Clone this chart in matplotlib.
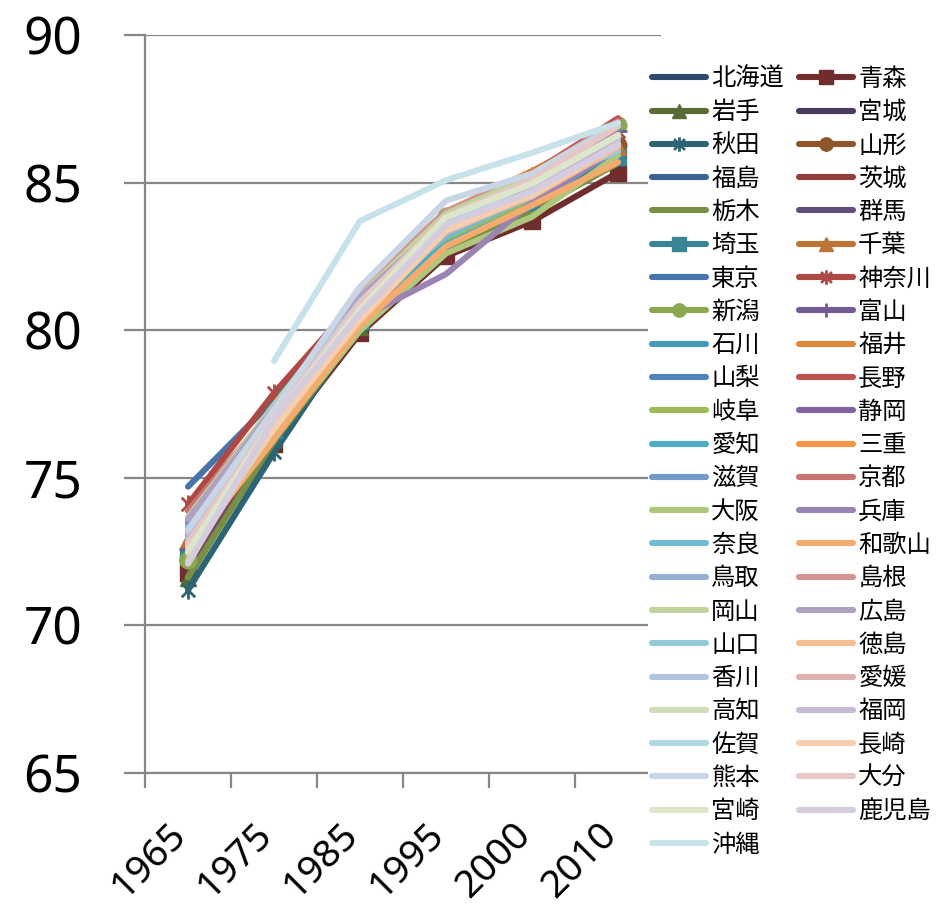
import numpy as np
import matplotlib
matplotlib.use("Agg")
import matplotlib.pyplot as plt
import matplotlib.transforms as mtransforms
from matplotlib.path import Path

plt.rcParams['font.family'] = ['Noto Sans CJK JP', 'DejaVu Sans']

years = ["1965", "1975", "1985", "1995", "2000", "2010"]

prefectures = ["北海道", "青森", "岩手", "宮城", "秋田", "山形", "福島", "茨城", "栃木", "群馬",
               "埼玉", "千葉", "東京", "神奈川", "新潟", "富山", "石川", "福井", "山梨", "長野",
               "岐阜", "静岡", "愛知", "三重", "滋賀", "京都", "大阪", "兵庫", "奈良", "和歌山",
               "鳥取", "島根", "岡山", "広島", "山口", "徳島", "香川", "愛媛", "高知", "福岡",
               "佐賀", "長崎", "熊本", "大分", "宮崎", "鹿児島", "沖縄"]

le_1965 = [72.85, 71.77, 71.61, 72.53, 71.20, 72.20, 71.95, 71.70, 71.63, 72.14,
           72.36, 72.90, 74.70, 74.10, 72.20, 72.58, 73.05, 72.43, 72.76, 73.19,
           72.74, 73.51, 73.40, 72.77, 72.87, 73.88, 73.38, 73.48, 73.30, 72.55,
           72.37, 72.72, 73.67, 73.60, 72.95, 72.20, 72.83, 72.70, 72.48, 73.12,
           72.51, 72.67, 73.23, 72.78, 72.50, 72.09, np.nan]
le_1975 = [76.90, 76.15, 76.30, 76.84, 75.86, 76.57, 76.31, 76.31, 76.24, 76.65,
           76.61, 76.93, 77.64, 77.87, 76.90, 76.91, 77.11, 76.93, 76.92, 77.27,
           76.95, 77.39, 77.05, 76.90, 77.05, 77.37, 76.38, 76.95, 77.28, 76.30,
           76.90, 77.25, 77.46, 77.36, 76.99, 76.74, 77.34, 76.80, 76.66, 76.84,
           76.69, 76.67, 77.31, 77.03, 76.99, 76.99, 78.96]
le_1985 = [80.42, 79.90, 80.12, 80.59, 80.22, 80.45, 80.29, 80.06, 80.01, 80.29,
           80.31, 80.52, 80.80, 81.14, 80.85, 80.92, 80.99, 80.87, 80.57, 81.13,
           80.57, 81.03, 80.61, 80.70, 80.81, 80.89, 79.99, 80.41, 80.71, 80.15,
           80.55, 81.41, 81.16, 81.13, 80.59, 80.31, 80.96, 80.48, 80.45, 80.55,
           80.56, 80.39, 81.47, 80.92, 80.71, 80.56, 83.70]
le_1995 = [83.32, 82.51, 83.22, 83.45, 83.26, 83.35, 82.97, 82.81, 82.71, 83.13,
           82.94, 83.14, 83.06, 83.40, 83.86, 83.82, 83.80, 84.01, 83.56, 83.89,
           83.10, 83.50, 82.90, 83.22, 83.65, 83.43, 82.60, 81.90, 83.19, 82.84,
           83.57, 84.03, 83.94, 83.72, 83.48, 83.38, 83.73, 83.32, 83.51, 83.35,
           83.60, 83.38, 84.39, 83.84, 83.83, 83.57, 85.08]
le_2000 = [84.84, 83.69, 84.49, 84.74, 84.32, 84.57, 84.21, 84.21, 84.04, 84.47,
           84.34, 84.52, 84.36, 84.74, 85.19, 85.24, 85.18, 85.39, 85.21, 85.31,
           84.33, 84.95, 84.22, 84.58, 84.96, 84.81, 83.84, 84.34, 84.54, 84.23,
           84.82, 85.30, 85.23, 85.10, 84.87, 84.53, 85.06, 84.56, 84.57, 84.75,
           85.03, 84.59, 85.30, 85.10, 84.96, 84.70, 86.01]
le_2010 = [86.30, 85.34, 85.86, 86.39, 85.93, 86.28, 86.05, 85.83, 85.66, 85.91,
           85.88, 86.20, 86.39, 86.74, 86.96, 86.75, 86.75, 86.94, 86.65, 87.18,
           86.26, 86.22, 86.22, 86.25, 86.69, 86.65, 85.93, 86.14, 86.60, 85.69,
           86.08, 87.07, 86.93, 86.94, 86.07, 86.21, 86.34, 86.54, 86.47, 86.48,
           86.58, 86.30, 86.98, 86.91, 86.61, 86.28, 87.02]

# ---- styling ----
accents = ["#4F81BD", "#C0504D", "#9BBB59", "#8064A2", "#4BACC6", "#F79646"]


def hex2rgb(h):
    return np.array([int(h[i:i + 2], 16) for i in (1, 3, 5)]) / 255.0


def shade_color(base, s):
    rgb = hex2rgb(base)
    if s < 3:
        return tuple(rgb * [0.58, 0.77, 0.9][s])
    if s == 3:
        return tuple(rgb)
    t = [0.2, 0.38, 0.54, 0.67][s - 4]
    c = rgb + (1 - rgb) * t
    g = c.mean()
    c = c + (g - c) * 0.15 * (s - 3) / 4
    return tuple(c)


star_path = Path([(0, -1), (0, 1), (-0.75, -0.75), (0.75, 0.75), (-0.75, 0.75), (0.75, -0.75)],
                 [Path.MOVETO, Path.LINETO, Path.MOVETO, Path.LINETO, Path.MOVETO, Path.LINETO])

markers = {1: 's', 2: '^', 4: star_path, 5: 'o', 10: 's', 11: '^', 13: star_path, 14: 'o', 15: '+'}

W, H = 941, 909
fig = plt.figure(figsize=(W / 100, H / 100), dpi=100)
ax = fig.add_axes([145 / W, 1 - 773 / H, (661 - 145) / W, (773 - 35) / H])

data = np.array([le_1965, le_1975, le_1985, le_1995, le_2000, le_2010])
x = np.arange(len(years))
handles = []
for i, name in enumerate(prefectures):
    col = shade_color(accents[i % 6], i // 6)
    m = markers.get(i, None)
    ms = 12 if m in ('s', '^', 'o') else 13
    mew = 2.0 if m is not None and m not in ('s', '^', 'o') else 1.0
    ln, = ax.plot(x, data[:, i], color=col, lw=4.4, solid_capstyle='round',
                  solid_joinstyle='round', marker=m, markersize=ms, markeredgewidth=mew,
                  markerfacecolor=col, markeredgecolor=col, label=name, zorder=2 + i * 0.01)
    handles.append(ln)

grid_c = "#868686"
ax.set_xlim(-0.5, len(years) - 0.5)
ax.set_ylim(65, 90)
ax.set_yticks(np.arange(65, 91, 5))
ax.yaxis.grid(True, color=grid_c, lw=1.6, zorder=0)
ax.set_axisbelow(True)
ax.set_xticks(x)
ax.set_xticklabels(years, rotation=45, ha='right', va='top', rotation_mode='default')
ax.set_xticks(np.arange(-0.5, len(years), 1.0), minor=True)
ax.tick_params(axis='x', which='major', length=0, pad=31, labelsize=28)
ax.tick_params(axis='x', which='minor', length=11, width=1.6, color=grid_c, direction='out')
ax.tick_params(axis='y', length=15, width=1.6, color=grid_c, pad=30, labelsize=37)
shift = mtransforms.ScaledTranslation(6 / 100, 0, fig.dpi_scale_trans)
for lab in ax.get_xticklabels():
    lab.set_transform(lab.get_transform() + shift)
for lab in ax.get_xticklabels() + ax.get_yticklabels():
    lab.set_fontfamily(['Noto Sans', 'DejaVu Sans'])
for s in ('top', 'right'):
    ax.spines[s].set_visible(False)
for s in ('left', 'bottom'):
    ax.spines[s].set_color(grid_c)
    ax.spines[s].set_linewidth(1.6)

order = list(range(0, 47, 2)) + list(range(1, 47, 2))
leg = fig.legend([handles[k] for k in order], [prefectures[k] for k in order],
                 loc='upper left', bbox_to_anchor=(636 / W, 1 - 50 / H), ncol=2,
                 frameon=True, fancybox=False, edgecolor='none', facecolor='white', framealpha=1,
                 prop={'family': ['Noto Sans CJK JP', 'DejaVu Sans'], 'size': 17.5},
                 handlelength=2.25, handletextpad=0.2, columnspacing=0.6, labelspacing=0.30,
                 borderpad=0.15, numpoints=1, markerscale=0.8)
for t in leg.get_texts():
    t.set_color('black')

fig.savefig("out.png", dpi=100)
